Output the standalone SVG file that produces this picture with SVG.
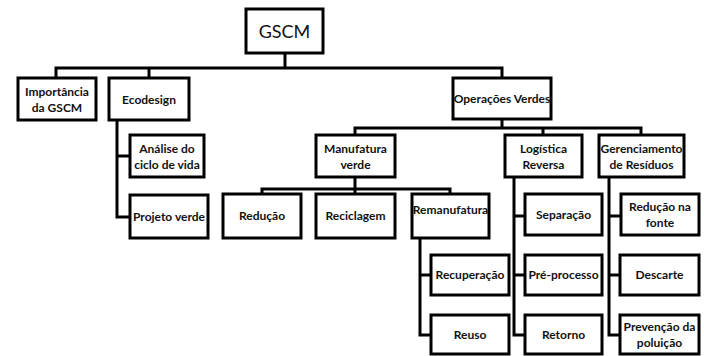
<svg xmlns="http://www.w3.org/2000/svg" width="704" height="356" viewBox="0 0 704 356">
<style>
.b rect{fill:#fff;stroke:#000;stroke-width:3}
.c path{fill:none;stroke:#000;stroke-width:3}
text{font-family:Lato,"Open Sans",sans-serif;font-size:12px;font-weight:700;fill:#111;text-anchor:middle}
.t{font-size:18px;font-weight:400}
</style>
<rect width="704" height="356" fill="#fff"/>
<g class="c">
<path d="M285,53V68M56,78V68H502V78"/>
<path d="M149,68V78"/>
<path d="M117,120V217H130M117,156H130"/>
<path d="M502,119V128M355,135V128H641V135M543,128V135"/>
<path d="M355,177V189M262,194V189H450V194M355,189V194"/>
<path d="M420,238V335H431M420,275H431"/>
<path d="M514,177V335H525M514,216H525M514,275H525"/>
<path d="M609,177V335H620M609,216H621M609,275H620"/>
</g>
<g class="b">
<g id="gscm"><rect x="246" y="9" width="77" height="44"/><text class="t" x="284.5" y="38">GSCM</text></g>
<g id="importancia"><rect x="18" y="78" width="78" height="42"/><text x="57" y="96">Importância</text><text x="57" y="112">da GSCM</text></g>
<g id="ecodesign"><rect x="109" y="78" width="80" height="42"/><text x="149" y="104">Ecodesign</text></g>
<g id="operacoes"><rect x="453" y="78" width="98" height="41"/><text x="502" y="103">Operações Verdes</text></g>
<g id="analise"><rect x="130" y="135" width="74" height="42"/><text x="167" y="153">Análise do</text><text x="167" y="169">ciclo de vida</text></g>
<g id="projeto"><rect x="130" y="195" width="78" height="43"/><text x="169" y="221">Projeto verde</text></g>
<g id="manufatura"><rect x="316" y="135" width="79" height="42"/><text x="355.5" y="153">Manufatura</text><text x="355.5" y="169">verde</text></g>
<g id="logistica"><rect x="505" y="135" width="77" height="42"/><text x="543.5" y="153">Logística</text><text x="543.5" y="169">Reversa</text></g>
<g id="gerenciamento"><rect x="599" y="135" width="85" height="42"/><text x="641.5" y="153">Gerenciamento</text><text x="641.5" y="169">de Resíduos</text></g>
<g id="reducao"><rect x="223" y="194" width="78" height="44"/><text x="262" y="220">Redução</text></g>
<g id="reciclagem"><rect x="316" y="194" width="79" height="44"/><text x="355.5" y="220">Reciclagem</text></g>
<g id="remanufatura"><rect x="412" y="194" width="77" height="44"/><text x="450.5" y="214">Remanufatura</text></g>
<g id="separacao"><rect x="525" y="194" width="77" height="41"/><text x="563.5" y="219">Separação</text></g>
<g id="reducaofonte"><rect x="621" y="194" width="78" height="41"/><text x="660" y="211">Redução na</text><text x="660" y="227">fonte</text></g>
<g id="recuperacao"><rect x="431" y="255" width="78" height="40"/><text x="470" y="279">Recuperação</text></g>
<g id="reuso"><rect x="431" y="315" width="78" height="39"/><text x="470" y="339">Reuso</text></g>
<g id="preprocesso"><rect x="525" y="255" width="77" height="40"/><text x="563.5" y="279">Pré-processo</text></g>
<g id="retorno"><rect x="525" y="315" width="77" height="39"/><text x="563.5" y="339">Retorno</text></g>
<g id="descarte"><rect x="620" y="255" width="79" height="40"/><text x="659.5" y="279">Descarte</text></g>
<g id="prevencao"><rect x="620" y="315" width="79" height="39"/><text x="659.5" y="331">Prevenção da</text><text x="659.5" y="347">poluição</text></g>
</g>
</svg>
